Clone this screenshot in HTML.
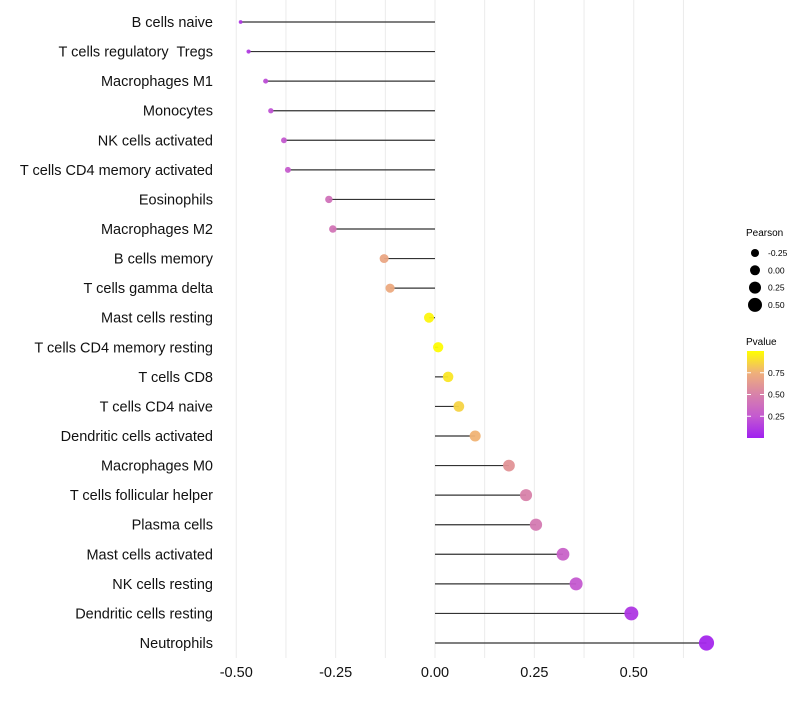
<!DOCTYPE html>
<html><head><meta charset="utf-8"><style>
body{margin:0;background:#fff;font-family:"Liberation Sans",sans-serif}
svg text{font-family:"Liberation Sans",sans-serif;white-space:pre}
</style></head><body>
<svg id="c" width="800" height="700">
<defs><linearGradient id="pg" x1="0" y1="1" x2="0" y2="0">
<stop offset="0" stop-color="#a020f0"/><stop offset="0.25" stop-color="#c45ad0"/><stop offset="0.5" stop-color="#d882aa"/><stop offset="0.75" stop-color="#efb07a"/><stop offset="1" stop-color="#ffff00"/></linearGradient></defs>
<g id="grid"></g><g id="marks"></g><g id="ylab"></g><g id="xlab"></g>
<g>
<text x="746" y="236" font-size="10">Pearson</text>
<g id="sizeleg"></g></g>
<g>
<text x="746" y="345" font-size="10">Pvalue</text>
<rect x="747" y="351" width="17" height="87" fill="url(#pg)"/>
<g id="colleg"></g></g>
</svg>
<script>
const cells=["B cells naive","T cells regulatory  Tregs","Macrophages M1","Monocytes","NK cells activated","T cells CD4 memory activated","Eosinophils","Macrophages M2","B cells memory","T cells gamma delta","Mast cells resting","T cells CD4 memory resting","T cells CD8","T cells CD4 naive","Dendritic cells activated","Macrophages M0","T cells follicular helper","Plasma cells","Mast cells activated","NK cells resting","Dendritic cells resting","Neutrophils"];
const pearson=[-0.489,-0.469,-0.426,-0.413,-0.380,-0.370,-0.267,-0.257,-0.128,-0.113,-0.015,0.008,0.033,0.060,0.101,0.186,0.229,0.254,0.322,0.355,0.494,0.683];
const pvalue=[0.10,0.12,0.20,0.22,0.25,0.27,0.40,0.42,0.70,0.72,0.97,0.99,0.92,0.86,0.76,0.60,0.50,0.45,0.30,0.25,0.10,0.03];
const xTicks=[-0.5,-0.25,0,0.25,0.5];
const xTickLabels=["-0.50","-0.25","0.00","0.25","0.50"];
const sizeLegVals=[-0.25,0,0.25,0.5];
const sizeLegLabels=["-0.25","0.00","0.25","0.50"];
const colTicks=[0.75,0.5,0.25];
const colTickLabels=["0.75","0.50","0.25"];
const NS="http://www.w3.org/2000/svg";
const X=v=>435+v*397.5;
const Y=i=>22+i*(621/(cells.length-1));
const R=v=>Math.sqrt(Math.max(26+46*v,2.5));
const PY=p=>438-p*87;
const stops=[[0,[160,32,240]],[0.25,[196,90,208]],[0.5,[216,130,170]],[0.75,[239,176,122]],[1,[255,255,0]]];
function col(p){p=Math.max(0,Math.min(1,p));for(let k=1;k<stops.length;k++){if(p<=stops[k][0]){const a=stops[k-1],b=stops[k],t=(p-a[0])/(b[0]-a[0]);return "rgb("+a[1].map((c,j)=>Math.round(c+(b[1][j]-c)*t)).join(",")+")";}}}
function mk(t,a,par){const e=document.createElementNS(NS,t);for(const k in a)e.setAttribute(k,a[k]);document.getElementById(par).appendChild(e);return e;}
for(let g=-0.5;g<=0.626;g+=0.125){const l=mk("line",{x1:X(g),x2:X(g),y1:0,y2:658,stroke:"#ebebeb","stroke-width":1},"grid");

}
cells.forEach((c,i)=>{
const y=Y(i),v=pearson[i];
const ln=mk("line",{x1:X(0),x2:X(v),y1:y,y2:y,stroke:"#333","stroke-width":1.2},"marks");


const d=mk("circle",{cx:X(v),cy:y,r:R(v),fill:col(pvalue[i]),"fill-opacity":0.95},"marks");


const t=mk("text",{x:213,y:y+5,"text-anchor":"end","font-size":14.5,fill:"#111"},"ylab");t.textContent=c;


});
xTicks.forEach((v,i)=>{const t=mk("text",{x:X(v),y:677,"text-anchor":"middle","font-size":14.5,fill:"#111"},"xlab");t.textContent=xTickLabels[i];

});
sizeLegVals.forEach((v,i)=>{const y=253+i*17.3;
const c=mk("circle",{cx:755,cy:y,r:4+i*1,fill:"#000"},"sizeleg");


const t=mk("text",{x:768,y:y+3,"font-size":8.5},"sizeleg");t.textContent=sizeLegLabels[i];

});
colTicks.forEach((p,i)=>{const y=PY(p);
mk("line",{x1:747,x2:751,y1:y,y2:y,stroke:"#fff"},"colleg");mk("line",{x1:760,x2:764,y1:y,y2:y,stroke:"#fff"},"colleg");
const t=mk("text",{x:768,y:y+3,"font-size":8.5},"colleg");t.textContent=colTickLabels[i];

});
</script>
</body></html>
